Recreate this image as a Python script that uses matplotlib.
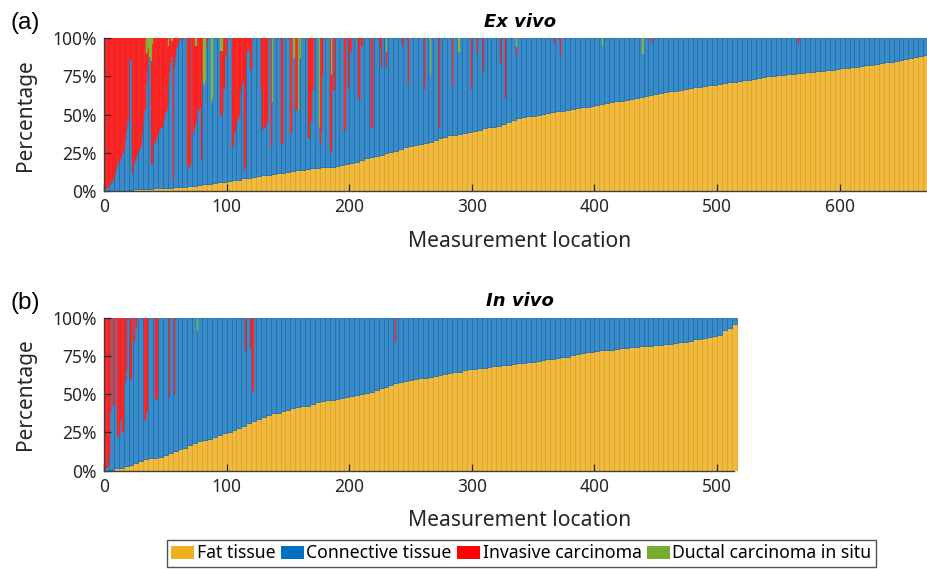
import numpy as np
import matplotlib
matplotlib.use('Agg')
import matplotlib.pyplot as plt
from matplotlib.patches import Patch

plt.rcParams['font.family'] = ['Noto Sans', 'DejaVu Sans']

# fat-tissue values are read per group of 4 consecutive measurement locations
BIN = 4
N_A = 672
N_B = 516

series_names = ['Fat tissue', 'Connective tissue', 'Invasive carcinoma', 'Ductal carcinoma in situ']

# (a) Ex vivo - fat tissue percentage per group of 4 locations (sorted ascending)
fat_a = [
    0, 0, 0, 0, 0, 0.5, 1, 1, 1.2, 1.5,
    1.7, 1.8, 2, 2.2, 2.5, 2.7, 2.8, 3, 3.3, 3.8,
    4.3, 4.6, 5, 5.6, 6.2, 6.5, 7, 7.5, 8.2, 8.7,
    9.3, 10, 10.4, 10.8, 11.2, 11.6, 12, 12.5, 13, 13.5,
    13.8, 14.3, 14.8, 15, 15.4, 15.8, 16, 16.3, 16.8, 17.5,
    18.2, 19.2, 20.3, 21.5, 22, 22.6, 23.4, 24.6, 25.5, 26.5,
    27.5, 28.6, 29.3, 30, 30.8, 31.6, 32.3, 33.3, 34.4, 35.5,
    36.5, 37, 37.6, 38.2, 38.8, 39.5, 40.2, 41, 41.7, 42.2,
    42.8, 44, 45.2, 46.4, 47.6, 48.5, 49, 49.4, 49.8, 50.3,
    51, 51.6, 52.2, 52.7, 53.2, 53.7, 54.2, 54.8, 55.3, 55.8,
    56.3, 57, 57.6, 58.2, 58.7, 59.2, 59.7, 60.3, 61, 61.8,
    62.5, 63, 63.5, 64, 64.6, 65.2, 65.8, 66.3, 66.8, 67.3,
    67.8, 68.2, 68.7, 69.2, 69.6, 70, 70.6, 71.2, 71.7, 72.2,
    72.6, 73, 73.6, 74.1, 74.6, 75, 75.4, 75.8, 76.1, 76.4,
    76.7, 77, 77.3, 77.7, 78.1, 78.5, 78.9, 79.2, 79.5, 79.9,
    80.3, 80.7, 81.1, 81.5, 81.9, 82.3, 82.8, 83.3, 83.8, 84.3,
    84.8, 85.3, 85.9, 86.5, 87.2, 88, 88.5, 89,
]
# invasive carcinoma / DCIS percentages per measurement location (location: value); others 0
ic_a = {0: 99, 1: 99, 2: 98, 3: 97, 4: 96, 5: 95, 6: 94, 7: 92, 8: 90, 9: 88,
        10: 84, 11: 82, 12: 80, 13: 79, 14: 78, 15: 75, 16: 72, 17: 66, 18: 60, 19: 54,
        20: 14, 21: 14, 22: 13, 23: 89, 24: 82, 25: 80, 26: 78, 27: 76, 28: 73, 29: 71,
        30: 70, 31: 62, 32: 55, 33: 47, 34: 20, 35: 12, 36: 8, 38: 67, 39: 78,
        40: 70, 41: 68, 42: 66, 43: 64, 44: 62, 45: 60, 46: 59, 47: 58, 48: 56, 49: 52,
        50: 48, 51: 45, 52: 25, 53: 22, 54: 16, 55: 10, 56: 93, 57: 18, 58: 12, 59: 6,
        60: 3, 63: 2, 68: 84, 69: 84, 70: 82, 72: 62, 73: 58, 74: 52, 75: 48, 76: 45,
        77: 47, 78: 45, 79: 80, 80: 25, 83: 5, 95: 43, 96: 40, 97: 33, 98: 33, 99: 11,
        104: 72, 105: 70, 106: 62, 107: 60, 108: 54, 109: 52, 110: 50, 111: 35, 112: 30,
        113: 28, 114: 86, 115: 84, 116: 8, 117: 8, 118: 6, 119: 21, 120: 20, 128: 34,
        129: 60, 130: 58, 131: 58, 132: 56, 133: 55, 136: 71, 144: 69, 145: 69, 152: 62,
        156: 47, 157: 47, 166: 65, 167: 65, 168: 54, 169: 54, 170: 34, 176: 69, 177: 60,
        178: 24, 184: 74, 185: 50, 187: 34, 196: 60, 199: 32, 201: 8, 207: 40, 208: 40,
        210: 5, 218: 59, 225: 5, 226: 19, 230: 10, 243: 5, 248: 30, 261: 33, 273: 59,
        284: 31, 299: 33, 304: 10, 309: 22, 323: 16, 327: 39, 336: 5, 367: 4, 372: 11,
        446: 3, 566: 4}
dcis_a = {34: 10, 35: 8, 36: 6, 37: 12, 38: 15, 39: 4, 52: 5, 55: 2, 74: 5, 75: 5,
          81: 30, 82: 28, 87: 42, 88: 40, 95: 8, 96: 8, 137: 42, 154: 13, 155: 13,
          158: 47, 160: 13, 175: 58, 185: 24, 230: 9, 266: 24, 289: 9, 336: 6,
          406: 5, 439: 10}

# (b) In vivo - fat tissue percentage per group of 4 locations
fat_b = [
    0, 0.5, 1.5, 2, 3, 4, 5.2, 6.5, 7.5, 8,
    8.5, 9.2, 10.5, 11.5, 13, 14, 14.6, 16.8, 18, 19.2,
    20, 21, 22, 23.5, 24.8, 25.5, 26.5, 27.7, 29, 31,
    32.5, 34, 35.3, 36.5, 37.5, 38, 38.8, 40, 41, 41.5,
    42, 42.5, 43.5, 45, 45.5, 46, 46.5, 47, 47.6, 48.2,
    48.8, 49.4, 50, 50.6, 51.5, 52.5, 53.8, 55, 56.2, 57.5,
    58.2, 58.7, 59.2, 59.8, 60.3, 60.8, 61.4, 62, 62.6, 63.3,
    63.6, 64.2, 64.8, 65.5, 66.2, 66.6, 67, 67.4, 67.8, 68.2,
    68.5, 68.9, 69.3, 69.7, 70.1, 70.5, 70.9, 71.3, 71.8, 72.3,
    72.8, 73.3, 73.8, 74.2, 74.6, 75.3, 76, 76.7, 77.3, 77.8,
    78.2, 78.6, 78.9, 79.2, 79.6, 80, 80.4, 80.7, 81, 81.2,
    81.5, 81.8, 82.1, 82.4, 82.7, 83, 83.3, 83.8, 84.3, 85,
    85.8, 86.4, 87, 87.5, 88, 89, 92, 93, 96,
]
ic_b = {0: 98, 1: 98, 2: 98, 3: 97, 4: 90, 5: 61, 7: 57, 8: 57, 11: 77, 12: 77,
        13: 67, 14: 67, 15: 75, 17: 42, 18: 34, 21: 40, 22: 40, 24: 15, 26: 6,
        33: 67, 34: 62, 35: 60, 42: 53, 43: 53, 53: 52, 57: 50, 115: 22, 119: 20,
        121: 48, 237: 16}
dcis_b = {76: 9}

xticks_a = [0, 100, 200, 300, 400, 500, 600]
xticks_b = [0, 100, 200, 300, 400, 500]
yticks = [0, 25, 50, 75, 100]
ytick_labels = ['0%', '25%', '50%', '75%', '100%']

face = ['#F0BA42', '#3A8CC8', '#FF3030', '#8CB843']
edge = ['#E3A51C', '#1F70B3', '#F01818', '#7AAE30']
legend_colors = ['#EDB120', '#0072BD', '#FF0000', '#77AC30']
axcol = '#262626'


def expand(d, n):
    arr = np.zeros(n)
    for k, v in d.items():
        arr[k] = v
    return arr


def draw(ax, fat, ic, dcis, n_loc, xticks, xspan):
    nb = len(fat)
    xb = np.arange(nb) * BIN
    fat = np.array(fat, dtype=float)
    # fat and the connective-tissue background per group of locations
    ax.bar(xb[fat > 0], fat[fat > 0], width=BIN, align='edge',
           color=face[0], edgecolor=edge[0], linewidth=0.6)
    ax.bar(xb, 100 - fat, width=BIN, bottom=fat, align='edge',
           color=face[1], edgecolor=edge[1], linewidth=0.6)
    # carcinoma parts per single location, stacked at the top (connective below them)
    xl = np.arange(n_loc)
    ic = expand(ic, n_loc)
    dcis = expand(dcis, n_loc)
    m = ic > 0
    ax.bar(xl[m], ic[m], width=1, bottom=(100 - dcis - ic)[m], align='edge',
           color=face[2], edgecolor=edge[2], linewidth=0.3)
    m = dcis > 0
    ax.bar(xl[m], dcis[m], width=1, bottom=(100 - dcis)[m], align='edge',
           color=face[3], edgecolor=edge[3], linewidth=0.3)
    ax.set_xlim(0, 672)
    ax.set_ylim(0, 100)
    ax.set_yticks(yticks, ytick_labels)
    ax.set_xticks(xticks)
    ax.tick_params(direction='in', length=5, width=0.9, colors=axcol,
                   labelsize=12.5, pad=5)
    for s in ['top', 'right']:
        ax.spines[s].set_visible(False)
    for s in ['left', 'bottom']:
        ax.spines[s].set_color('#404040')
        ax.spines[s].set_linewidth(1.0)
    ax.spines['bottom'].set_bounds(0, xspan)
    ax.set_ylabel('Percentage', fontsize=15, color=axcol)
    ax.yaxis.set_label_coords(-0.083, 0.5)
    ax.set_xlabel('Measurement location', fontsize=15.2, color=axcol)
    ax.xaxis.set_label_coords(0.505, -0.26)


fig = plt.figure(figsize=(9.28, 5.69), dpi=100)
W, H = 928, 569
ax_a = fig.add_axes([104 / W, 1 - 191 / H, 824 / W, 152.7 / H])
ax_b = fig.add_axes([104 / W, 1 - 470.7 / H, 824 / W, 153 / H])

draw(ax_a, fat_a, ic_a, dcis_a, N_A, xticks_a, 672)
draw(ax_b, fat_b, ic_b, dcis_b, N_B, xticks_b, 514)

fig.text(520 / W, 1 - 27 / H, 'Ex vivo', ha='center', va='baseline',
         fontsize=13, fontweight='bold', style='italic', color='black',
         family='DejaVu Sans')
fig.text(520 / W, 1 - 306 / H, 'In vivo', ha='center', va='baseline',
         fontsize=13, fontweight='bold', style='italic', color='black',
         family='DejaVu Sans')
fig.text(11 / W, 1 - 29 / H, '(a)', ha='left', va='baseline', fontsize=17.5,
         family='Liberation Sans', color='black')
fig.text(11 / W, 1 - 309 / H, '(b)', ha='left', va='baseline', fontsize=17.5,
         family='Liberation Sans', color='black')

handles = [Patch(facecolor=c, edgecolor='none') for c in legend_colors]
leg = fig.legend(handles, series_names, loc='upper left',
                 bbox_to_anchor=(167 / W, 1 - 540 / H), ncol=4, frameon=True,
                 fancybox=False, edgecolor=axcol, fontsize=12.7,
                 handlelength=1.3, handleheight=0.8, handletextpad=0.15,
                 columnspacing=0.3, borderpad=0.25, borderaxespad=0)
leg.get_frame().set_linewidth(1.0)

fig.savefig('out.png', dpi=100)
